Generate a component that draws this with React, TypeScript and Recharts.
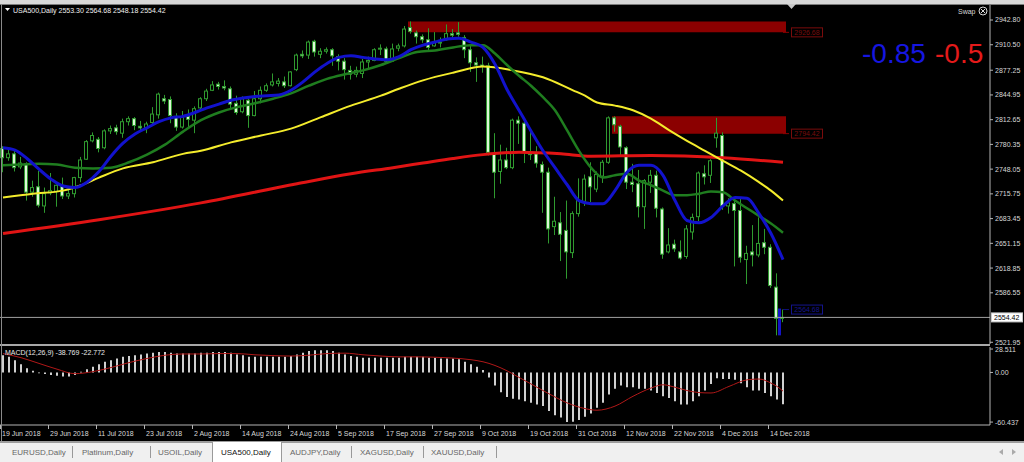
import React from "react";
import {
  ComposedChart,
  Bar,
  Line,
  XAxis,
  YAxis,
  ReferenceArea,
  ReferenceLine,
  ReferenceDot,
} from "recharts";

const FONT = '"Liberation Sans", Arial, sans-serif';

// trading days on the chart (the CFD also prints bars on US holidays)
const DAYS: [string, number[]][] = [
  ["Jun", [19, 20, 21, 22, 25, 26, 27, 28, 29]],
  ["Jul", [2, 3, 4, 5, 6, 9, 10, 11, 12, 13, 16, 17, 18, 19, 20, 23, 24, 25, 26, 27, 30, 31]],
  ["Aug", [1, 2, 3, 6, 7, 8, 9, 10, 13, 14, 15, 16, 17, 20, 21, 22, 23, 24, 27, 28, 29, 30, 31]],
  ["Sep", [3, 4, 5, 6, 7, 10, 11, 12, 13, 14, 17, 18, 19, 20, 21, 24, 25, 26, 27, 28]],
  ["Oct", [1, 2, 3, 4, 5, 8, 9, 10, 11, 12, 15, 16, 17, 18, 19, 22, 23, 24, 25, 26, 29, 30, 31]],
  ["Nov", [1, 2, 5, 6, 7, 8, 9, 12, 13, 14, 15, 16, 19, 20, 21, 22, 23, 26, 27, 28, 29, 30]],
  ["Dec", [3, 4, 5, 6, 7, 10, 11, 12, 13, 14, 17, 18]],
];
const DATES = DAYS.flatMap(([m, ds]) => ds.map((d) => `${d} ${m} 2018`));
const EMPTY_SLOTS = 34; // chart shift area on the right

const DATE_TICKS = [
  "19 Jun 2018", "29 Jun 2018", "11 Jul 2018", "23 Jul 2018", "2 Aug 2018", "14 Aug 2018",
  "24 Aug 2018", "5 Sep 2018", "17 Sep 2018", "27 Sep 2018", "9 Oct 2018", "19 Oct 2018",
  "31 Oct 2018", "12 Nov 2018", "22 Nov 2018", "4 Dec 2018", "14 Dec 2018",
];
const PRICE_TICKS = [
  2942.8, 2910.5, 2877.25, 2844.95, 2812.65, 2780.35, 2748.05, 2715.75, 2683.45, 2651.15,
  2618.85, 2586.55, 2521.95,
];
const MACD_TICKS = [28.511, 0, -60.437];

const OPEN = [
  2775, 2763, 2768, 2751, 2755, 2718, 2725, 2700, 2717,
  2719, 2727, 2713, 2716, 2737, 2761, 2785, 2787, 2776, 2798, 2802, 2795, 2810, 2814, 2804, 2801, 2809, 2819, 2840, 2839, 2817, 2803,
  2817, 2812, 2828, 2840, 2851, 2859, 2856, 2853, 2834, 2823, 2838, 2818, 2840, 2851, 2858, 2860, 2862, 2857, 2878, 2898, 2897, 2915, 2898,
  2902, 2904, 2895, 2889, 2877, 2872, 2873, 2888, 2890, 2905, 2905, 2889, 2906, 2909, 2933, 2926, 2921, 2917, 2909, 2913,
  2917, 2925, 2926, 2920, 2904, 2887, 2884, 2883, 2768, 2745, 2760, 2750, 2812, 2808, 2770, 2768, 2754, 2744, 2673, 2678, 2668, 2639, 2690,
  2706, 2738, 2722, 2739, 2757, 2815, 2804, 2776, 2731, 2729, 2699, 2731, 2740, 2696, 2640, 2650, 2640, 2634, 2666, 2686, 2742, 2740,
  2789, 2792, 2700, 2703, 2694, 2630, 2640, 2636, 2652, 2646, 2594, 2553.3,
];
const HIGH = [
  2778, 2775, 2773, 2764, 2757, 2733, 2746, 2724, 2743,
  2728, 2737, 2721, 2738, 2764, 2786, 2796, 2790, 2800, 2805, 2806, 2814, 2817, 2816, 2811, 2810, 2829, 2848, 2845, 2843, 2821, 2824,
  2826, 2830, 2842, 2853, 2863, 2862, 2864, 2856, 2844, 2843, 2840, 2850, 2856, 2860, 2873, 2867, 2869, 2876, 2899, 2903, 2916, 2917, 2906,
  2907, 2906, 2898, 2893, 2883, 2882, 2892, 2895, 2906, 2911, 2908, 2912, 2912, 2935, 2940.9, 2929, 2924, 2932, 2927, 2920,
  2937, 2931, 2940, 2923, 2910, 2894, 2895, 2887, 2795, 2780, 2776, 2814, 2817, 2812, 2798, 2778, 2758, 2750, 2712, 2692, 2707, 2693, 2736,
  2741, 2757, 2745, 2760, 2817, 2817, 2806, 2778, 2755, 2747, 2735, 2747, 2746, 2698, 2671, 2656, 2655, 2675, 2690, 2745, 2753, 2761,
  2815, 2796, 2710, 2708, 2709, 2648, 2675, 2685, 2670, 2650, 2612, 2564.68,
];
const LOW = [
  2744, 2759, 2745, 2748, 2707, 2712, 2698, 2691, 2714,
  2699, 2709, 2709, 2711, 2731, 2760, 2783, 2770, 2774, 2794, 2793, 2789, 2805, 2799, 2797, 2795, 2806, 2814, 2833, 2808, 2798, 2801,
  2803, 2795, 2826, 2837, 2850, 2852, 2851, 2826, 2819, 2821, 2802, 2817, 2834, 2849, 2856, 2856, 2854, 2856, 2876, 2893, 2892, 2895, 2893,
  2899, 2883, 2877, 2865, 2865, 2868, 2867, 2878, 2889, 2897, 2887, 2888, 2902, 2907, 2925, 2912, 2913, 2903, 2908, 2907,
  2916, 2919, 2921, 2893, 2875, 2862, 2874, 2766, 2710, 2729, 2748, 2748, 2781, 2756, 2760, 2750, 2691, 2651, 2662, 2628, 2605, 2632, 2686,
  2700, 2705, 2718, 2730, 2755, 2797, 2765, 2722, 2718, 2685, 2670, 2717, 2685, 2631, 2638, 2640, 2630, 2631, 2656, 2680, 2728, 2730,
  2776, 2695, 2690, 2621, 2626, 2598, 2621, 2633, 2637, 2593, 2531, 2548.18,
];
const CLOSE = [
  2763, 2768, 2750, 2756, 2718, 2724, 2701, 2716, 2720,
  2727, 2713, 2716, 2737, 2760, 2784, 2792, 2775, 2798, 2801, 2797, 2810, 2814, 2805, 2802, 2807, 2820, 2846, 2837, 2818, 2803, 2816,
  2813, 2827, 2840, 2850, 2858, 2856, 2854, 2833, 2822, 2840, 2818, 2840, 2851, 2857, 2862, 2863, 2857, 2875, 2897, 2896, 2914, 2901, 2902,
  2904, 2896, 2889, 2878, 2872, 2877, 2888, 2890, 2904, 2906, 2889, 2905, 2909, 2931, 2928, 2921, 2917, 2907, 2914, 2914,
  2925, 2923, 2924, 2904, 2887, 2884, 2882, 2770, 2744, 2760, 2750, 2812, 2808, 2771, 2767, 2756, 2744, 2670, 2680, 2663, 2640, 2690, 2707,
  2735, 2725, 2741, 2757, 2815, 2806, 2777, 2731, 2728, 2699, 2733, 2740, 2697, 2637, 2649, 2644, 2632, 2670, 2685, 2743, 2738, 2759,
  2795, 2700, 2704, 2694, 2633, 2638, 2636, 2651, 2646, 2596, 2553, 2554.42,
];

// moving averages, [bar index, value]
const MA_BLUE: [number, number][] = [
  [0, 2776], [2, 2773], [4, 2762], [6, 2748], [8, 2735], [10, 2726], [12, 2724], [14, 2731], [16, 2745],
  [18, 2765], [20, 2782], [22, 2794], [24, 2802], [26, 2810], [28, 2815], [30, 2817], [32, 2822], [34, 2828],
  [36, 2833], [38, 2838], [40, 2841], [42, 2843], [44, 2844], [46, 2845], [48, 2851], [50, 2862], [52, 2875],
  [54, 2886], [56, 2894], [58, 2896], [60, 2894], [62, 2892], [64, 2891], [66, 2895], [68, 2904], [70, 2910],
  [72, 2914], [74, 2918], [76, 2919], [78, 2914], [80, 2907], [82, 2885], [84, 2852], [86, 2825], [88, 2798],
  [90, 2772], [92, 2750], [94, 2728], [96, 2707], [98, 2703], [100, 2703], [102, 2720], [104, 2744], [106, 2753],
  [108, 2753], [110, 2740], [112, 2707], [114, 2681], [116, 2678], [118, 2685], [120, 2700], [122, 2711],
  [124, 2710], [126, 2690], [128, 2664], [130, 2630],
];
const MA_GREEN: [number, number][] = [
  [0, 2753], [3, 2754], [6, 2755], [9, 2754], [12, 2750], [15, 2749], [18, 2750], [21, 2757], [24, 2767],
  [27, 2780], [30, 2797], [33, 2812], [36, 2822], [39, 2829], [42, 2834], [45, 2840], [48, 2847], [51, 2857],
  [54, 2866], [57, 2872], [60, 2877], [63, 2884], [66, 2893], [69, 2901], [72, 2903], [75, 2907], [78, 2910],
  [80, 2910], [82, 2899], [84, 2884], [86, 2870], [88, 2857], [90, 2842], [92, 2825], [94, 2799], [96, 2772],
  [98, 2750], [100, 2737], [102, 2740], [104, 2742], [106, 2733], [108, 2727], [110, 2720], [112, 2714],
  [114, 2714], [116, 2716], [118, 2719], [120, 2718], [122, 2707], [124, 2697], [126, 2687], [128, 2677], [130, 2665],
];
const MA_YELLOW: [number, number][] = [
  [0, 2711], [5, 2716], [10, 2720], [13, 2727], [16, 2737], [20, 2749], [25, 2757], [30, 2768], [33, 2772],
  [38, 2783], [43, 2792], [48, 2801], [53, 2816], [58, 2831], [63, 2844], [66, 2853], [70, 2864], [75, 2874],
  [80, 2882], [85, 2877], [90, 2868], [95, 2851], [97, 2844], [99, 2835], [102, 2831], [105, 2825], [108, 2814],
  [111, 2799], [114, 2785], [117, 2772], [120, 2759], [123, 2746], [126, 2731], [128, 2720], [130, 2707],
];
const MA_RED: [number, number][] = [
  [0, 2664], [16, 2682], [33, 2704], [49, 2729], [58, 2742], [65, 2750], [70, 2756], [75, 2762], [80, 2767],
  [86, 2770], [93, 2768], [98, 2765], [108, 2766], [120, 2763], [130, 2757],
];

const MACD_MAIN = [
  21, 19, 15, 10, 5, 2, -1, -2, -3,
  -4, -5, -5, -3, 1, 4, 7, 10, 13, 15, 17, 19, 20, 21, 22, 23, 24, 25, 25, 24, 23, 23,
  23, 23, 24, 24, 25, 25, 25, 24, 22, 21, 19, 19, 19, 19, 19, 19, 19, 20, 22, 24, 26, 27, 27,
  27, 26, 24, 22, 20, 19, 18, 18, 18, 18, 18, 18, 18, 19, 19, 19, 19, 18, 18, 17,
  17, 17, 16, 13, 10, 7, 3, -6, -16, -24, -30, -32, -33, -35, -37, -39, -41, -47, -52, -55, -60.4, -60, -58,
  -54, -50, -43, -37, -27, -20, -16, -18, -18, -20, -20, -22, -25, -29, -31, -35, -39, -39, -35, -29, -22, -14,
  -7, -8, -8, -9, -13, -18, -22, -22, -25, -29, -33, -38.769,
];
const MACD_SIGNAL: [number, number][] = [
  [0, 23], [3, 18], [6, 11], [9, 4], [12, -1.5], [15, 1], [18, 6], [21, 12], [24, 17], [27, 21], [30, 22.5],
  [33, 22.5], [36, 23], [39, 23], [42, 21.5], [45, 20.5], [48, 20], [51, 21], [54, 23], [57, 23.5], [60, 21.5],
  [63, 20], [66, 19], [69, 19], [72, 18.5], [75, 17.5], [78, 15.5], [80, 13], [82, 8.5], [84, 2], [86, -6],
  [88, -14], [91, -26], [94, -37], [97, -44], [99, -46], [102, -41], [105, -29], [108, -19], [110, -15],
  [112, -18], [114, -22], [116, -24.5], [118, -25], [121, -17], [124, -9], [126, -8], [128, -13], [129, -17],
  [130, -22.772],
];

// drawn objects
const ZONES = [
  { from: "21 Sep 2018", lo: 2926.68, hi: 2940.9 },
  { from: "8 Nov 2018", lo: 2794.42, hi: 2817 },
];
const BID = 2554.42;
const LAST_HIGH = 2564.68;
const MARK = { lo: 2531, hi: 2566 };

const CATS = [...DATES, ...Array.from({ length: EMPTY_SLOTS }, (_, k) => `shift${k}`)];
const LAST = DATES[DATES.length - 1];

const rows: any[] = CATS.map((d, i) =>
  i < DATES.length
    ? { d, o: OPEN[i], h: HIGH[i], l: LOW[i], c: CLOSE[i], m: MACD_MAIN[i] }
    : { d }
);
MA_BLUE.forEach(([i, v]) => (rows[i].blue = v));
MA_GREEN.forEach(([i, v]) => (rows[i].green = v));
MA_YELLOW.forEach(([i, v]) => (rows[i].yellow = v));
MA_RED.forEach(([i, v]) => (rows[i].red = v));
MACD_SIGNAL.forEach(([i, v]) => (rows[i].s = v));

const WICK = "#2f9a2f";
const BEAR_FILL = "#dcf7d6";
const AXIS_TEXT = "#d8d8d8";
const AXIS_LINE = "#b4b4b4";
const ZONE_RED = "#8b0000";

function Candle(props: any) {
  const { x, y, width, height, payload } = props;
  if (!payload || payload.h == null || !isFinite(y) || !isFinite(height)) return null;
  const k = height / (payload.h - payload.l);
  const cx = Math.round(x + width / 2);
  const yo = y + (payload.h - payload.o) * k;
  const yc = y + (payload.h - payload.c) * k;
  const top = Math.min(yo, yc);
  const bh = Math.max(Math.abs(yo - yc), 1);
  const up = payload.c >= payload.o;
  return (
    <g>
      <line x1={cx - 0.5} x2={cx - 0.5} y1={y} y2={y + height} stroke={WICK} strokeWidth={1} />
      <rect x={cx - 2.5} y={top} width={3} height={bh} fill={up ? "#000" : BEAR_FILL} stroke={WICK} strokeWidth={1} />
    </g>
  );
}

function priceTag(text: string, color: string) {
  return (p: any) => (
    <g>
      <rect x={p.cx - 15.5} y={p.cy - 4.5} width={31} height={9} fill="#000" stroke={color} strokeWidth={1} />
      <text x={p.cx} y={p.cy + 2.5} textAnchor="middle" fontSize={7} fontFamily={FONT} fill={color}>
        {text}
      </text>
    </g>
  );
}

function BidTag(p: any) {
  const vb = p.viewBox;
  const x = vb.x + vb.width + 1;
  return (
    <g>
      <rect x={x + 0.5} y={vb.y - 4.5} width={31} height={9} fill="#fff" stroke="#c8c8c8" />
      <text x={x + 3} y={vb.y + 2.5} fontSize={7} fontFamily={FONT} fill="#000">
        {BID.toFixed(2)}
      </text>
    </g>
  );
}

function DateTick(p: any) {
  const { x, y, payload } = p;
  return (
    <g>
      <line x1={x - 2.5} x2={x - 2.5} y1={y} y2={y + 4} stroke={AXIS_LINE} />
      <text x={x - 1} y={y + 11} fontSize={7} fontFamily={FONT} fill={AXIS_TEXT}>
        {payload.value}
      </text>
    </g>
  );
}

const TABS = ["EURUSD,Daily", "Platinum,Daily", "USOIL,Daily", "USA500,Daily", "AUDJPY,Daily", "XAGUSD,Daily", "XAUUSD,Daily"];
const TAB_X = [12, 82, 158, 221, 290, 360, 431];
const TAB_SEP_X = [72, 150, 351, 423, 496];

export default function App() {
  return (
    <div style={{ position: "absolute", left: 0, top: 0, width: 1024, height: 462, background: "#000", overflow: "hidden", fontFamily: FONT }}>
      <div style={{ position: "absolute", left: 0, top: 0 }}>
        <ComposedChart width={1024} height={346} data={rows} margin={{ top: 5, right: 0, bottom: 2, left: 0 }} barCategoryGap={0} barGap={0}>
          <XAxis dataKey="d" hide />
          <YAxis
            orientation="right"
            width={34}
            domain={[2519.7, 2962.4]}
            allowDataOverflow
            ticks={PRICE_TICKS}
            interval={0}
            tickFormatter={(v: number) => v.toFixed(2)}
            tick={{ fill: AXIS_TEXT, fontSize: 7, fontFamily: FONT }}
            tickSize={3}
            tickMargin={2}
            tickLine={{ stroke: AXIS_LINE }}
            axisLine={{ stroke: AXIS_LINE }}
          />
          {ZONES.map((z) => (
            <ReferenceArea key={z.from} x1={z.from} x2={LAST} y1={z.lo} y2={z.hi} fill={ZONE_RED} fillOpacity={1} stroke="none" />
          ))}
          <ReferenceLine y={BID} stroke="#a0a0a0" strokeWidth={1} label={BidTag} />
          <Bar dataKey={(r: any) => (r.h == null ? null : [r.l, r.h])} shape={Candle} barSize={6} isAnimationActive={false} />
          <Line dataKey="red" stroke="#e01414" strokeWidth={3} dot={false} type="monotone" connectNulls isAnimationActive={false} />
          <Line dataKey="yellow" stroke="#f4ec2c" strokeWidth={2} dot={false} type="monotone" connectNulls isAnimationActive={false} />
          <Line dataKey="green" stroke="#1f7d1f" strokeWidth={2.5} dot={false} type="monotone" connectNulls isAnimationActive={false} />
          <Line dataKey="blue" stroke="#1212cc" strokeWidth={3} dot={false} type="monotone" connectNulls isAnimationActive={false} />
          <ReferenceArea
            x1={LAST}
            x2={LAST}
            y1={MARK.lo}
            y2={MARK.hi}
            shape={(p: any) => <rect x={p.x - 2} y={p.y} width={3} height={p.height} fill="#1414c8" />}
          />
          {ZONES.map((z) => (
            <ReferenceLine key={"s" + z.from} segment={[{ x: LAST, y: z.lo }, { x: CATS[DATES.length], y: z.lo }]} stroke={ZONE_RED} />
          ))}
          <ReferenceLine segment={[{ x: LAST, y: LAST_HIGH }, { x: CATS[DATES.length], y: LAST_HIGH }]} stroke="#10107a" />
          {ZONES.map((z) => (
            <ReferenceDot key={"t" + z.from} x={CATS[DATES.length + 3]} y={z.lo} r={1} shape={priceTag(z.lo.toFixed(2), "#7a0c0c")} />
          ))}
          <ReferenceDot x={CATS[DATES.length + 3]} y={LAST_HIGH} r={1} shape={priceTag(LAST_HIGH.toFixed(2), "#14148c")} />
        </ComposedChart>
      </div>

      <div style={{ position: "absolute", left: 0, top: 344, width: 990, height: 2, background: "#a8a8a8" }} />

      <div style={{ position: "absolute", left: 0, top: 346 }}>
        <ComposedChart width={1024} height={96} data={rows} margin={{ top: 1, right: 0, bottom: 0, left: 0 }} barCategoryGap={0} barGap={0}>
          <XAxis
            dataKey="d"
            ticks={DATE_TICKS}
            interval={0}
            height={17}
            tickSize={0}
            tickMargin={0}
            tickLine={false}
            axisLine={{ stroke: AXIS_LINE }}
            tick={DateTick}
          />
          <YAxis
            orientation="right"
            width={34}
            domain={[-64, 31]}
            allowDataOverflow
            ticks={MACD_TICKS}
            interval={0}
            tickFormatter={(v: number) => (v === 0 ? "0.00" : String(v))}
            tick={{ fill: AXIS_TEXT, fontSize: 7, fontFamily: FONT }}
            tickSize={3}
            tickMargin={2}
            tickLine={{ stroke: AXIS_LINE }}
            axisLine={{ stroke: AXIS_LINE }}
          />
          <Bar dataKey="m" fill="#d0d0d0" barSize={2} isAnimationActive={false} />
          <Line dataKey="s" stroke="#b01818" strokeWidth={1} dot={false} type="monotone" connectNulls isAnimationActive={false} />
        </ComposedChart>
      </div>

      {/* window frame */}
      <div style={{ position: "absolute", left: 0, top: 0, width: 1024, height: 4, background: "#d8d8d8" }} />
      <div style={{ position: "absolute", left: 0, top: 4, width: 1024, height: 1, background: "#7c7c7c" }} />
      <div style={{ position: "absolute", left: 1, top: 4, width: 1, height: 438, background: "#8a8a8a" }} />
      <div style={{ position: "absolute", left: 0, top: 441, width: 1024, height: 2, background: "#9c9c9c" }} />

      {/* tab bar */}
      <div style={{ position: "absolute", left: 0, top: 443, width: 1024, height: 19, background: "#f0f0f0" }} />
      <div style={{ position: "absolute", left: 212, top: 442, width: 70, height: 20, background: "#fff", borderLeft: "1px solid #9a9a9a", borderRight: "1px solid #9a9a9a", boxSizing: "border-box" }} />
      <svg width={1024} height={462} style={{ position: "absolute", left: 0, top: 0, pointerEvents: "none" }}>
        {TABS.map((t, i) => (
          <text key={t} x={TAB_X[i]} y={455} fontSize={8} fontFamily={FONT} fill={i === 3 ? "#111" : "#666"}>
            {t}
          </text>
        ))}
        {TAB_SEP_X.map((x) => (
          <line key={x} x1={x + 0.5} x2={x + 0.5} y1={446} y2={458} stroke="#999" />
        ))}
        <polygon points="999,452 1003,449 1003,455" fill="#aaa" />
        <polygon points="1016,452 1012,449 1012,455" fill="#aaa" />

        {/* chart shift marker */}
        <polygon points="787,4 796,4 791.5,9" fill="#c8c8c8" />

        {/* header */}
        <polygon points="5,8 10,8 7.5,11" fill="#fff" />
        <text x={13} y={13} fontSize={7} fontFamily={FONT} fill="#f0f0f0">
          USA500,Daily  2553.30 2564.68 2548.18 2554.42
        </text>
        <text x={958} y={14} fontSize={7} fontFamily={FONT} fill="#d8d8d8">
          Swap
        </text>
        <circle cx={983} cy={11} r={4} fill="none" stroke="#d8d8d8" strokeWidth={1} />
        <line x1={981} y1={9} x2={985} y2={13} stroke="#d8d8d8" />
        <line x1={985} y1={9} x2={981} y2={13} stroke="#d8d8d8" />

        <text x={862} y={63} fontSize={28} fontFamily={FONT} fill="#1616e0">
          -0.85
        </text>
        <text x={935} y={63} fontSize={28} fontFamily={FONT} fill="#e41a1a">
          -0.5
        </text>

        <text x={5} y={355} fontSize={7} fontFamily={FONT} fill="#e8e8e8">
          MACD(12,26,9) -38.769 -22.772
        </text>
      </svg>
    </div>
  );
}
